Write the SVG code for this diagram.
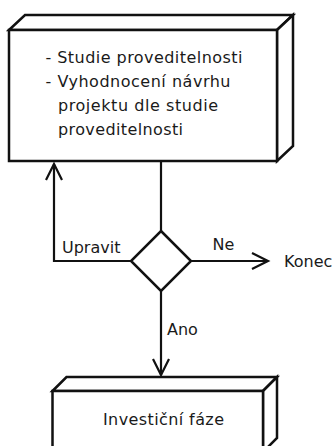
<svg xmlns="http://www.w3.org/2000/svg" width="336" height="446" viewBox="0 0 336 446">
  <style>
    .box { fill: #ffffff; stroke: #111111; stroke-width: 2.5; stroke-linejoin: miter; }
    .conn { fill: none; stroke: #111111; stroke-width: 2.2; }
    .t { font-family: "DejaVu Sans", Verdana, sans-serif; font-size: 16px; fill: #1a1a1a; }
  </style>
  <defs>
    <marker id="arrow" markerUnits="userSpaceOnUse" markerWidth="24" markerHeight="24" viewBox="-20 -12 24 24" refX="0" refY="0" orient="auto">
      <path d="M-16,-8 L0,0 L-16,8" fill="none" stroke="#111111" stroke-width="2.2"/>
    </marker>
  </defs>
  <rect width="336" height="446" fill="#ffffff"/>

  <g id="connectors">
    <line class="conn" x1="161" y1="161" x2="161" y2="231"/>
    <polyline class="conn" points="131,261 54,261 54,164" marker-end="url(#arrow)"/>
    <line class="conn" x1="191" y1="261" x2="268" y2="261" marker-end="url(#arrow)"/>
    <line class="conn" x1="161" y1="291" x2="161" y2="375" marker-end="url(#arrow)"/>
    <text class="t" x="62" y="253">Upravit</text>
    <text class="t" x="212.5" y="250">Ne</text>
    <text class="t" x="167" y="335">Ano</text>
  </g>

  <g id="node-studie">
    <polygon class="box" points="9,30 25,15 293,15 277,30"/>
    <polygon class="box" points="277,30 293,15 293,146 277,161"/>
    <rect class="box" x="9" y="30" width="268" height="131"/>
    <text class="t" x="45.5" y="63" textLength="197" lengthAdjust="spacing">- Studie proveditelnosti</text>
    <text class="t" x="45.5" y="87" textLength="185" lengthAdjust="spacing">- Vyhodnocení návrhu</text>
    <text class="t" x="58" y="111" textLength="160" lengthAdjust="spacing">projektu dle studie</text>
    <text class="t" x="58" y="135" textLength="125" lengthAdjust="spacing">proveditelnosti</text>
  </g>

  <g id="node-decision">
    <polygon class="box" points="161,231 191,261 161,291 131,261"/>
  </g>

  <g id="node-konec">
    <text class="t" x="284" y="266.5">Konec</text>
  </g>

  <g id="node-investicni">
    <polygon class="box" points="52.5,391 66.5,377 277,377 263,391"/>
    <polygon class="box" points="263,391 277,377 277,438 263,452"/>
    <rect class="box" x="52.5" y="391" width="210.5" height="70"/>
    <text class="t" x="103" y="425" textLength="121" lengthAdjust="spacing">Investiční fáze</text>
  </g>
</svg>
